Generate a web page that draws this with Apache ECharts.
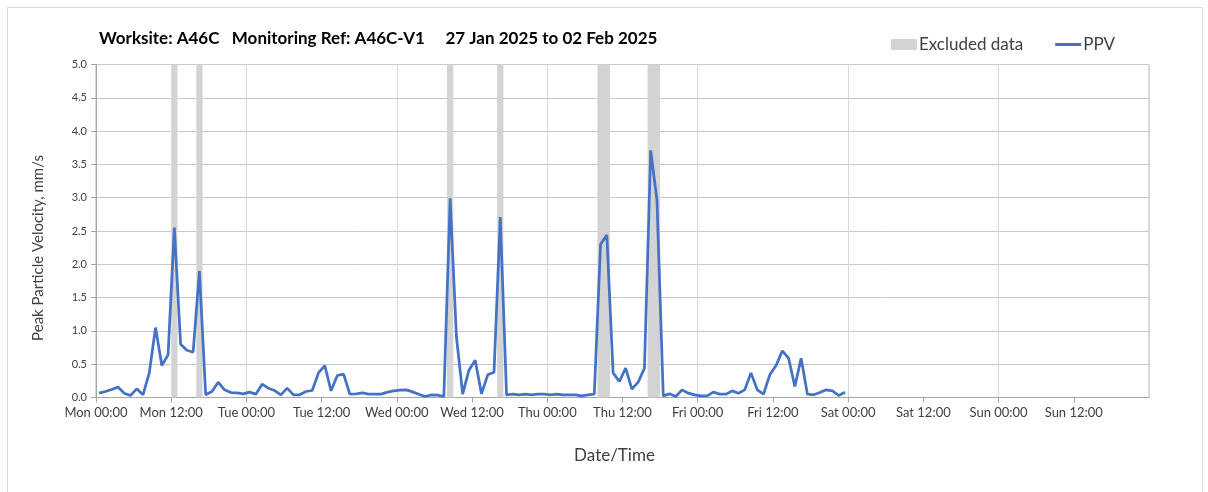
<!DOCTYPE html>
<html>
<head>
<meta charset="utf-8">
<title>PPV A46C-V1</title>
<script src="https://cdn.jsdelivr.net/npm/echarts@6/dist/echarts.min.js"></script>
<style>
  html, body { margin: 0; padding: 0; background: #fff; }
  #chart { width: 1208px; height: 492px; }
</style>
</head>
<body>
<div id="chart"></div>
<script>
// x axis in hours from Mon 00:00, one tick every 12 h
var tickLabels = ["Mon 00:00", "Mon 12:00", "Tue 00:00", "Tue 12:00", "Wed 00:00", "Wed 12:00",
  "Thu 00:00", "Thu 12:00", "Fri 00:00", "Fri 12:00", "Sat 00:00", "Sat 12:00",
  "Sun 00:00", "Sun 12:00", ""];

// hourly PPV readings (mm/s), first one at Mon 00:30
var ppv = [
  0.065, 0.09, 0.12, 0.156, 0.065, 0.03, 0.13, 0.04, 0.37, 1.05,
  0.48, 0.64, 2.55, 0.80, 0.71, 0.68, 1.90, 0.04, 0.09, 0.23,
  0.115, 0.075, 0.07, 0.055, 0.08, 0.05, 0.20, 0.14, 0.105, 0.04,
  0.14, 0.04, 0.04, 0.09, 0.105, 0.37, 0.48, 0.10, 0.33, 0.35,
  0.05, 0.055, 0.07, 0.05, 0.05, 0.05, 0.08, 0.10, 0.11, 0.115,
  0.085, 0.05, 0.015, 0.04, 0.035, 0.015, 2.99, 0.92, 0.05, 0.41,
  0.56, 0.055, 0.34, 0.38, 2.71, 0.04, 0.05, 0.04, 0.05, 0.04,
  0.05, 0.05, 0.04, 0.05, 0.04, 0.04, 0.04, 0.025, 0.04, 0.05,
  2.30, 2.44, 0.37, 0.24, 0.44, 0.125, 0.23, 0.44, 3.71, 2.96,
  0.025, 0.055, 0.015, 0.115, 0.065, 0.04, 0.025, 0.025, 0.08, 0.05,
  0.05, 0.10, 0.065, 0.115, 0.37, 0.115, 0.05, 0.34, 0.48, 0.70,
  0.59, 0.165, 0.59, 0.05, 0.04, 0.075, 0.115, 0.10, 0.03, 0.08
];

// excluded periods (hours from Mon 00:00)
var excludedStart = [12, 16, 56, 64, 80, 88];
var excludedEnd = [13, 17, 57, 65, 82, 90];

var font = "Lato";
var textCol = "#404040";

var chart = echarts.init(document.getElementById("chart"));

var ppvData = ppv.map(function (v, i) {
  return [i + 0.5, v];
});
var areas = excludedStart.map(function (s, i) {
  return [{ xAxis: s }, { xAxis: excludedEnd[i] }];
});

var option = {
  animation: false,
  textStyle: { fontFamily: font },
  title: {
    text: "Worksite: A46C   Monitoring Ref: A46C-V1     27 Jan 2025 to 02 Feb 2025",
    left: 94,
    top: 25,
    textStyle: { fontFamily: font, fontSize: 17, fontWeight: "bold", color: "#000" }
  },
  legend: {
    right: 88,
    top: 31,
    itemWidth: 26,
    itemHeight: 11,
    itemGap: 32,
    textStyle: { fontFamily: font, fontSize: 17, color: textCol, padding: [0, 0, 0, -3] },
    data: [
      { name: "Excluded data", icon: "rect", itemStyle: { color: "#d3d3d3" } },
      { name: "PPV", icon: "path://M0,0L26,0L26,3L0,3Z", itemStyle: { color: "#4472c4" } }
    ]
  },
  graphic: [
    {
      type: "rect",
      left: 5,
      top: 5,
      shape: { width: 1195, height: 500 },
      style: { fill: "none", stroke: "#d9d9d9", lineWidth: 1 },
      silent: true
    }
  ],
  grid: {
    left: 96,
    right: 59,
    top: 64.5,
    bottom: 94.5,
    show: true,
    borderColor: "#b3b3b3",
    borderWidth: 1
  },
  xAxis: [
    {
      type: "value",
      min: 0,
      max: 168,
      interval: 12,
      name: "Date/Time",
      nameLocation: "middle",
      nameGap: 50,
      nameTextStyle: { fontFamily: font, fontSize: 17, color: textCol, padding: [0, 16, 0, 0] },
      axisLine: { lineStyle: { color: "#a6a6a6" } },
      axisTick: { show: true, length: 5, lineStyle: { color: "#a6a6a6" } },
      axisLabel: {
        fontFamily: font,
        fontSize: 13,
        color: textCol,
        margin: 9,
        showMaxLabel: false,
        formatter: function (v) {
          return tickLabels[Math.round(v / 12)];
        }
      },
      splitLine: { show: false }
    },
    {
      // daily vertical gridlines only
      type: "value",
      min: 0,
      max: 168,
      interval: 24,
      position: "bottom",
      axisLine: { show: false },
      axisTick: { show: false },
      axisLabel: { show: false },
      splitLine: { show: true, lineStyle: { color: "#d9d9d9", width: 1 } }
    }
  ],
  yAxis: {
    type: "value",
    min: 0,
    max: 5,
    interval: 0.5,
    name: "Peak Particle Velocity, mm/s",
    nameLocation: "middle",
    nameGap: 50,
    nameTextStyle: { fontFamily: font, fontSize: 15, color: textCol, padding: [0, 34, 0, 0] },
    axisLine: { show: true, lineStyle: { color: "#a6a6a6" } },
    axisTick: { show: true, length: 5, lineStyle: { color: "#a6a6a6" } },
    axisLabel: {
      fontFamily: font,
      fontSize: 11,
      color: textCol,
      margin: 9,
      formatter: function (v) {
        return v.toFixed(1);
      }
    },
    splitLine: { show: true, lineStyle: { color: "#c8c8c8", width: 1 } }
  },
  series: [
    {
      name: "Excluded data",
      type: "line",
      data: [],
      itemStyle: { color: "#d3d3d3" },
      markArea: {
        silent: true,
        itemStyle: { color: "#d3d3d3", opacity: 1 },
        data: areas
      }
    },
    {
      name: "PPV",
      type: "line",
      data: ppvData,
      showSymbol: false,
      symbol: "none",
      z: 5,
      itemStyle: { color: "#4472c4" },
      lineStyle: { color: "#4472c4", width: 2.75 }
    }
  ]
};

chart.setOption(option);
</script>
</body>
</html>
